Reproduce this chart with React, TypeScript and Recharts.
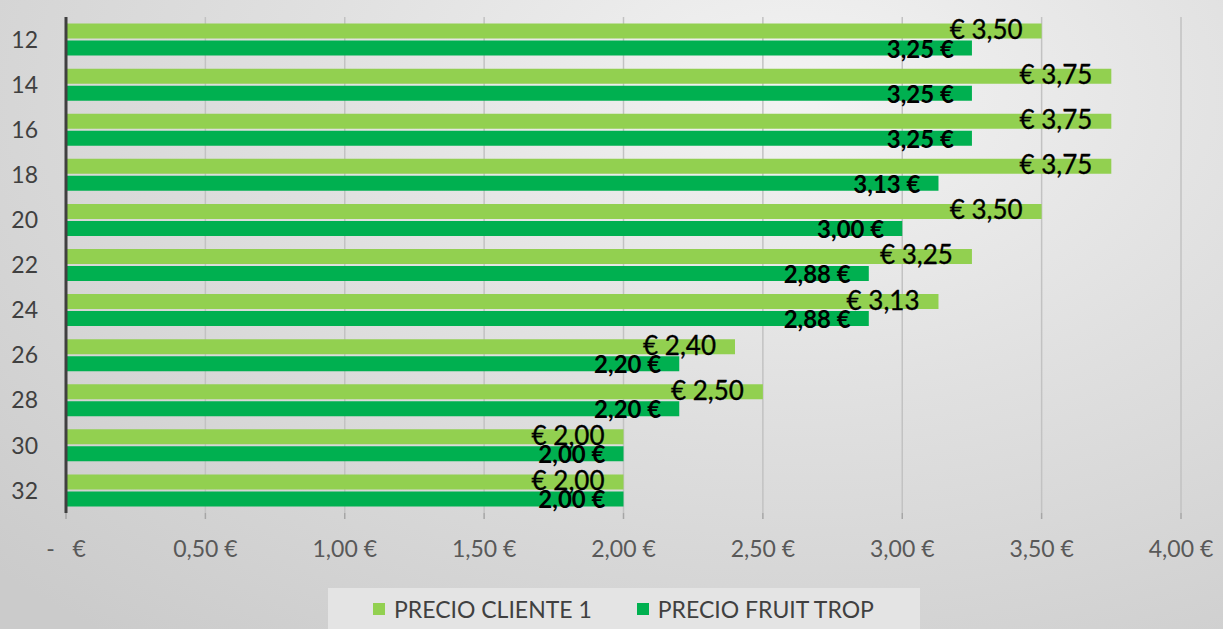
import React from 'react';
import { BarChart, Bar, XAxis, YAxis, CartesianGrid, Legend, LabelList } from 'recharts';

const categories = ['12', '14', '16', '18', '20', '22', '24', '26', '28', '30', '32'];
const precioCliente1 = [3.5, 3.75, 3.75, 3.75, 3.5, 3.25, 3.13, 2.4, 2.5, 2.0, 2.0];
const precioFruitTrop = [3.25, 3.25, 3.25, 3.13, 3.0, 2.88, 2.88, 2.2, 2.2, 2.0, 2.0];
const xTicks = [0, 0.5, 1, 1.5, 2, 2.5, 3, 3.5, 4];
const seriesNames = ['PRECIO CLIENTE 1', 'PRECIO FRUIT TROP'];

const LIGHT = '#92D050';
const DARK = '#00B050';
const FONT = 'Lato, "Open Sans", sans-serif';

const data = categories.map((c, i) => ({
  cat: c,
  cliente: precioCliente1[i],
  fruit: precioFruitTrop[i],
}));

const fmt = (v: number) => v.toFixed(2).replace('.', ',');
const tickFmt = (v: number) => (v === 0 ? '-\u00a0\u00a0\u00a0€' : `${fmt(v)} €`);

const ClienteLabel = (props: any) => {
  const { x, y, width, height, value } = props;
  return (
    <text
      x={x + width - 19}
      y={y + height / 2 - 2}
      textAnchor="end"
      dominantBaseline="central"
      fontFamily={FONT}
      fontSize={26}
      fill="#000"
      stroke="#000"
      strokeWidth={0.3}
    >
      {`€ ${fmt(value)}`}
    </text>
  );
};

const FruitLabel = (props: any) => {
  const { x, y, width, height, value } = props;
  return (
    <text
      x={x + width - 18}
      y={y + height / 2}
      textAnchor="end"
      dominantBaseline="central"
      fontFamily={FONT}
      fontSize={24}
      fontWeight={700}
      fill="#000"
    >
      {`${fmt(value)} €`}
    </text>
  );
};

const LegendBox = () => (
  <div
    style={{
      height: 41,
      background: '#e4e4e4',
      display: 'flex',
      alignItems: 'center',
      fontFamily: FONT,
      fontSize: 23,
      color: '#404040',
      boxSizing: 'border-box',
      paddingLeft: 45,
    }}
  >
    <span style={{ display: 'inline-block', width: 12, height: 12, background: LIGHT, marginRight: 9 }} />
    <span style={{ marginRight: 45 }}>{seriesNames[0]}</span>
    <span style={{ display: 'inline-block', width: 12, height: 12, background: DARK, marginRight: 9 }} />
    <span>{seriesNames[1]}</span>
  </div>
);

export default function App() {
  return (
    <div
      style={{
        position: 'absolute',
        left: 0,
        top: 0,
        width: 1223,
        height: 629,
        background: 'radial-gradient(ellipse 90% 110% at 65% 15%, #f3f3f3 0%, #e0e0e0 45%, #cbcbcb 100%)',
      }}
    >
      <BarChart
        width={1223}
        height={629}
        data={data}
        layout="vertical"
        margin={{ top: 17, right: 42, bottom: 0, left: 0 }}
        barCategoryGap="14.5%"
        barGap={2}
      >
        <CartesianGrid horizontal={false} vertical={true} stroke="#c2c2c2" strokeWidth={1.5} />
        <XAxis
          type="number"
          domain={[0, 4]}
          ticks={xTicks}
          tickFormatter={tickFmt}
          axisLine={false}
          tickLine={{ stroke: '#a6a6a6', strokeWidth: 1.5 }}
          tickSize={6}
          tickMargin={22}
          height={75}
          tick={{ fontFamily: FONT, fontSize: 23, fill: '#595959' }}
          interval={0}
        />
        <YAxis
          type="category"
          dataKey="cat"
          width={66}
          axisLine={{ stroke: '#404040', strokeWidth: 3 }}
          tickLine={false}
          tickSize={6}
          tickMargin={22}
          tick={{ fontFamily: FONT, fontSize: 23, fill: '#404040' }}
          interval={0}
        />
        <Legend
          verticalAlign="bottom"
          height={41}
          wrapperStyle={{ left: 328, width: 592, bottom: 0 }}
          content={<LegendBox />}
        />
        <Bar dataKey="cliente" name={seriesNames[0]} fill={LIGHT} isAnimationActive={false}>
          <LabelList dataKey="cliente" content={<ClienteLabel />} />
        </Bar>
        <Bar dataKey="fruit" name={seriesNames[1]} fill={DARK} isAnimationActive={false}>
          <LabelList dataKey="fruit" content={<FruitLabel />} />
        </Bar>
      </BarChart>
    </div>
  );
}
